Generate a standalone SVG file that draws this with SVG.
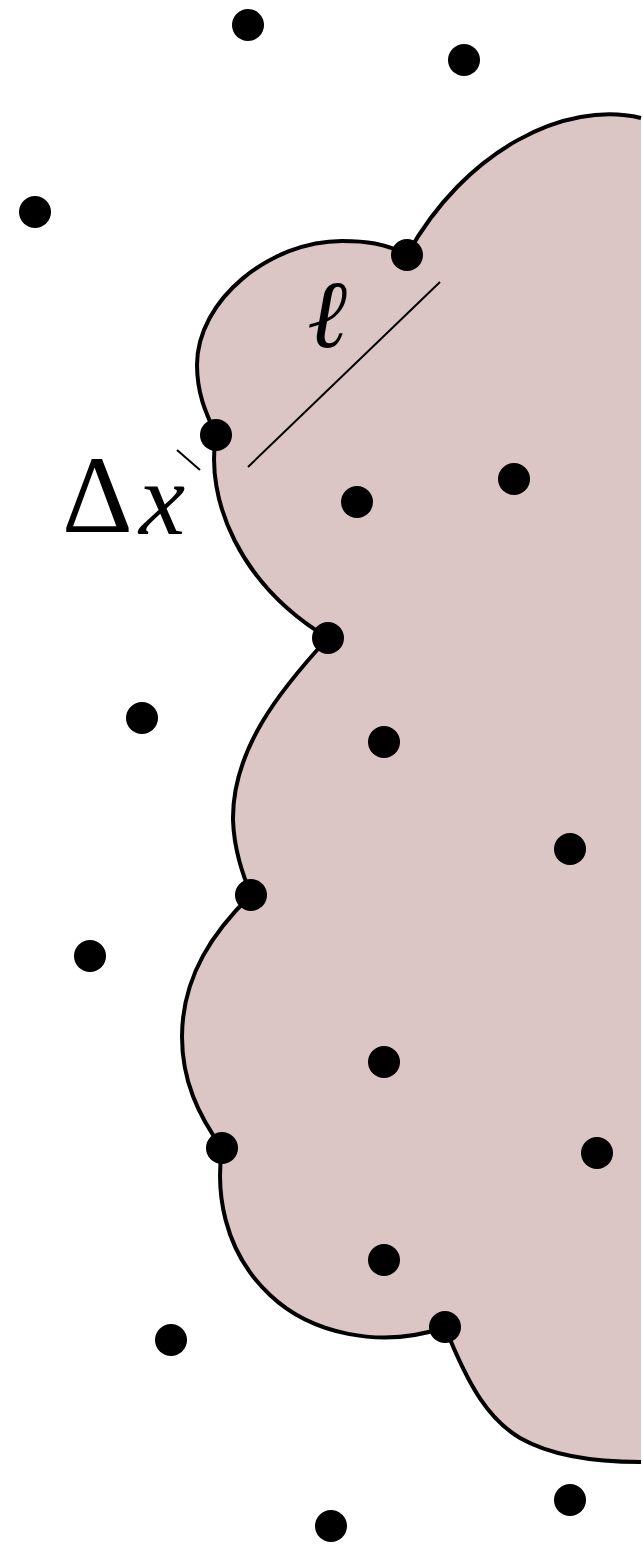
<svg xmlns="http://www.w3.org/2000/svg" width="643" height="1545" viewBox="0 0 643 1545">
<style>
.dot{fill:#000}
.region{fill:#dbc5c5;stroke:none}
.edge{fill:none;stroke:#000;stroke-width:4;stroke-linecap:butt;stroke-linejoin:round}
.thin{stroke:#000;stroke-width:2}
.lbl{font-family:"Liberation Serif","DejaVu Serif",serif;fill:#000}
</style>
<g id="region">
<path class="region" d="M641,118 C565,100 465,150 407,255 C385,243 365,241 342,241 C270,241 197,300 197,365 C197,395 207,415 216,435 C205,500 240,585 328,638 C280,690 232,750 233,820 C234,850 243,875 251,895 C215,930 182,975 182,1037 C182,1080 198,1115 222,1148 C216,1190 222,1250 270,1295 C310,1333 380,1350 445,1327 C470,1390 490,1420 520,1438 C555,1458 600,1462 641,1462 Z"/>
</g>
<g id="connectors">
<path class="edge" d="M641,118 C565,100 465,150 407,255 C385,243 365,241 342,241 C270,241 197,300 197,365 C197,395 207,415 216,435 C205,500 240,585 328,638 C280,690 232,750 233,820 C234,850 243,875 251,895 C215,930 182,975 182,1037 C182,1080 198,1115 222,1148 C216,1190 222,1250 270,1295 C310,1333 380,1350 445,1327 C470,1390 490,1420 520,1438 C555,1458 600,1462 641,1462"/>
<line class="thin" x1="248" y1="467" x2="440" y2="282"/>
<line class="thin" x1="177" y1="450" x2="200" y2="470"/>
</g>
<g id="labels">
<text class="lbl" x="327" y="347" font-size="96" font-style="italic" text-anchor="middle">ℓ</text>
<text class="lbl" x="62" y="532" font-size="110">Δ</text>
<text class="lbl" x="139" y="534" font-size="104" font-style="italic">x</text>
</g>
<g id="p1"><circle class="dot" cx="248" cy="25" r="16"/></g>
<g id="p2"><circle class="dot" cx="464" cy="60" r="16"/></g>
<g id="p3"><circle class="dot" cx="35" cy="212" r="16"/></g>
<g id="p4"><circle class="dot" cx="407" cy="255" r="16"/></g>
<g id="p5"><circle class="dot" cx="216" cy="435" r="16"/></g>
<g id="p6"><circle class="dot" cx="514" cy="479" r="16"/></g>
<g id="p7"><circle class="dot" cx="357" cy="502" r="16"/></g>
<g id="p8"><circle class="dot" cx="328" cy="638" r="16"/></g>
<g id="p9"><circle class="dot" cx="142" cy="718" r="16"/></g>
<g id="p10"><circle class="dot" cx="384" cy="742" r="16"/></g>
<g id="p11"><circle class="dot" cx="570" cy="849" r="16"/></g>
<g id="p12"><circle class="dot" cx="251" cy="895" r="16"/></g>
<g id="p13"><circle class="dot" cx="90" cy="956" r="16"/></g>
<g id="p14"><circle class="dot" cx="384" cy="1062" r="16"/></g>
<g id="p15"><circle class="dot" cx="222" cy="1148" r="16"/></g>
<g id="p16"><circle class="dot" cx="597" cy="1153" r="16"/></g>
<g id="p17"><circle class="dot" cx="384" cy="1260" r="16"/></g>
<g id="p18"><circle class="dot" cx="171" cy="1340" r="16"/></g>
<g id="p19"><circle class="dot" cx="445" cy="1327" r="16"/></g>
<g id="p20"><circle class="dot" cx="331" cy="1526" r="16"/></g>
<g id="p21"><circle class="dot" cx="570" cy="1500" r="16"/></g>
</svg>
